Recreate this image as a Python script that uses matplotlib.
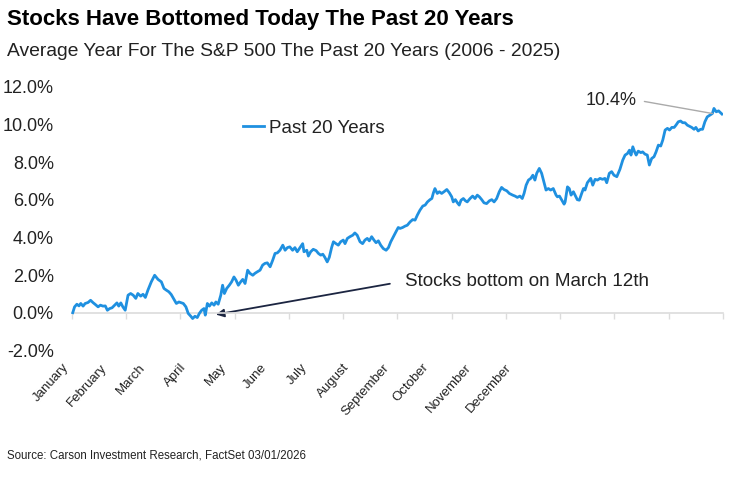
import numpy as np
import matplotlib.pyplot as plt

plt.rcParams['font.family'] = ['Liberation Sans', 'DejaVu Sans']

#
#   Data: trading day of the year and average return (%)
#
day = [0.3, 1.0, 1.9, 2.7, 3.4, 4.3, 5.1, 6.2, 7.2, 8.1, 9.0, 10.1, 11.0, 12.0, 12.9,
       13.7, 14.6, 15.5, 16.5, 17.4, 18.1, 18.9, 19.7, 20.6, 21.7, 22.7, 23.7, 24.7,
       25.5, 26.6, 27.5, 28.4, 29.4, 30.7, 32.0, 33.3, 34.6, 35.6, 36.5, 37.5, 38.4,
       39.5, 40.4, 41.4, 43.1, 44.1, 45.0, 46.0, 46.7, 47.6, 48.5, 49.3, 50.2, 51.1,
       51.6, 52.4, 53.2, 54.1, 55.0, 55.7, 56.6, 57.6, 58.3, 59.0, 59.9, 60.9, 61.8,
       62.7, 63.5, 64.4, 65.3, 66.1, 67.0, 68.0, 68.9, 70.0, 70.8, 71.7, 72.8, 73.8,
       74.7, 75.6, 76.7, 77.7, 78.6, 79.5, 80.5, 81.6, 82.5, 83.4, 84.3, 85.4, 86.3,
       87.2, 88.3, 89.3, 89.8, 90.9, 91.5, 92.4, 93.4, 94.5, 95.4, 96.3, 97.1, 97.9,
       98.8, 99.6, 100.5, 101.2, 102.2, 103.1, 104.0, 105.0, 105.7, 106.6, 107.6,
       108.7, 109.5, 110.4, 111.5, 112.5, 113.4, 114.3, 115.1, 116.0, 116.9, 117.7,
       118.6, 119.5, 120.5, 121.6, 122.5, 123.4, 124.4, 125.4, 126.3, 127.0, 128.0,
       128.9, 129.8, 130.9, 131.9, 132.8, 133.7, 134.7, 135.8, 136.7, 137.6, 138.6,
       139.3, 139.9, 140.5, 141.4, 142.2, 143.1, 144.0, 145.1, 146.1, 147.0, 147.6,
       148.4, 149.2, 149.9, 150.6, 151.5, 152.3, 153.0, 154.1, 155.1, 156.0, 156.9,
       157.7, 158.6, 159.5, 160.5, 161.6, 162.5, 163.4, 164.4, 165.4, 166.3, 167.2,
       168.3, 169.3, 170.6, 171.5, 172.4, 173.4, 174.3, 175.0, 175.8, 176.7, 177.6,
       178.4, 179.2, 179.9, 180.9, 181.8, 182.5, 183.5, 184.4, 185.3, 186.3, 187.4,
       187.9, 188.7, 189.6, 190.5, 190.9, 191.8, 192.5, 193.2, 194.1, 194.9, 195.6,
       196.4, 197.3, 198.0, 198.6, 199.5, 200.3, 200.8, 201.6, 202.5, 203.4, 204.4,
       205.4, 206.3, 207.0, 208.0, 208.9, 209.8, 210.9, 212.1, 213.2, 214.1, 215.0,
       215.8, 216.4, 217.1, 217.8, 218.4, 219.2, 220.2, 220.9, 221.8, 222.7, 223.5,
       224.4, 225.3, 226.1, 227.0, 227.9, 228.7, 229.6, 230.5, 231.3, 232.2, 233.1,
       233.8, 234.7, 235.6, 236.4, 237.3, 238.2, 238.9, 239.9, 240.8, 241.5, 242.4,
       243.3, 244.1, 245.0, 245.9, 246.9, 247.9, 248.5, 249.4, 250.3, 251.1, 251.6]

ret = [0.00, 0.31, 0.45, 0.36, 0.49, 0.35, 0.49, 0.54, 0.66, 0.54, 0.44, 0.31, 0.40, 0.35, 0.36,
       0.13, 0.22, 0.26, 0.40, 0.52, 0.35, 0.52, 0.31, 0.13, 0.93, 1.02, 0.93, 0.76,
       1.02, 0.88, 0.98, 0.81, 1.20, 1.64, 1.99, 1.77, 1.64, 1.29, 1.20, 1.11, 0.97,
       0.70, 0.49, 0.57, 0.49, 0.31, -0.04, -0.19, -0.31, -0.19, -0.26, -0.04, 0.13, 0.22,
       -0.13, 0.49, 0.35, 0.52, 0.40, 0.57, 0.45, 0.93, 1.46, 1.02, 1.29, 1.46, 1.64,
       1.90, 1.73, 1.46, 1.64, 1.77, 1.55, 2.26, 2.09, 1.99, 2.09, 2.17, 2.26, 2.53,
       2.62, 2.65, 2.44, 2.79, 3.15, 3.18, 3.32, 3.59, 3.32, 3.46, 3.50, 3.32, 3.46,
       3.24, 3.46, 3.67, 3.24, 3.32, 3.01, 3.24, 3.37, 3.30, 3.15, 3.06, 3.11, 2.94,
       2.70, 2.94, 3.46, 3.77, 3.67, 3.59, 3.77, 3.86, 3.67, 3.95, 4.04,
       4.12, 4.24, 4.12, 3.77, 3.67, 3.86, 3.95, 3.82, 4.04, 3.86, 3.72,
       3.82, 3.59, 3.41, 3.32, 3.46, 3.77, 4.04, 4.30, 4.53, 4.48, 4.53,
       4.60, 4.65, 4.83, 4.95, 4.92, 5.19, 5.45, 5.67, 5.72, 5.89, 6.01,
       6.07, 6.37, 6.60, 6.34, 6.43, 6.34, 6.43, 6.55, 6.37, 6.16, 5.89,
       6.01, 5.84, 5.72, 5.98, 6.07, 5.95, 5.89, 6.07, 6.20, 6.07, 6.25,
       6.16, 6.01, 5.84, 5.80, 5.95, 6.01, 5.89, 6.07, 6.43, 6.66, 6.55,
       6.48, 6.34, 6.25, 6.20, 6.13, 6.20, 6.07, 6.34, 6.78, 7.05, 7.14,
       7.31, 7.05, 7.41, 7.67, 7.41, 7.05, 6.52, 6.60, 6.52, 6.60, 6.25,
       6.16, 6.20, 5.98, 5.77, 5.89, 6.69, 6.60, 6.25, 6.43, 6.20, 6.01,
       5.98, 6.34, 6.60, 6.52, 6.91, 7.05, 7.14, 6.78, 7.09, 7.05, 7.14,
       7.09, 7.14, 6.91, 7.41, 7.50, 7.31, 7.23, 7.62, 8.11, 8.38, 8.46,
       8.64, 8.38, 8.82, 8.55, 8.38, 8.59, 8.51, 8.55, 8.43, 8.38, 7.85,
       8.20, 8.29, 8.55, 8.91, 8.86, 9.18, 9.71, 9.80, 9.71, 9.85, 9.85,
       9.97, 10.15, 10.19, 10.10, 10.10, 9.97, 9.92, 9.85, 9.75, 9.85, 9.66,
       9.75, 9.75, 10.15, 10.41, 10.50, 10.59, 10.86, 10.68, 10.73, 10.63, 10.56]

months = ['January', 'February', 'March', 'April', 'May', 'June', 'July',
          'August', 'September', 'October', 'November', 'December']
yvals = [-2, 0, 2, 4, 6, 8, 10, 12]

blue = '#1f90e0'
dark = '#222222'

#   tick marks every 21 trading days, month labels sit where the original put them
month_ticks = list(range(0, 253, 21))
label_pos = [-1.9, 12.8, 27.5, 43.4, 58.8, 74.7, 90.2, 106.5, 122.0, 137.4, 153.7, 169.2]

fig = plt.figure(figsize=(7.4, 4.8), dpi=100)
ax = fig.add_axes([0.0868, 0.2702, 0.8902, 0.5486])

ax.plot(day, ret, color=blue, lw=2, label='Past 20 Years', zorder=3)

ax.set_xlim(-3, 252)
ax.set_ylim(-2, 12)

ax.set_yticks(yvals)
ax.set_yticklabels([f'{v:.1f}%' for v in yvals])
ax.tick_params(axis='y', length=0, pad=7.5, labelsize=13, labelcolor=dark)

for s in ['left', 'right', 'top']:
    ax.spines[s].set_visible(False)
ax.spines['bottom'].set_position(('data', 0))
ax.spines['bottom'].set_bounds(0, 252)
ax.spines['bottom'].set_color('#dcdcdc')
ax.spines['bottom'].set_linewidth(1.2)

ax.set_xticks(month_ticks)
ax.set_xticklabels([])
ax.set_xticks(label_pos, months, minor=True)
ax.tick_params(axis='x', which='major', length=4, color='#dcdcdc', width=1)
ax.tick_params(axis='x', which='minor', length=0, pad=38, labelsize=9.5, labelcolor=dark)
for lab in ax.get_xticklabels(minor=True):
    lab.set_rotation(48)
    lab.set_ha('right')
    lab.set_va('center')
    lab.set_rotation_mode('anchor')

leg = ax.legend(loc='center left', bbox_to_anchor=(0.2713, 0.8443), frameon=False,
                fontsize=13.5, handlelength=1.1, handletextpad=0.3, borderpad=0,
                borderaxespad=0)
for t in leg.get_texts():
    t.set_color(dark)

#   annotations
ax.annotate('Stocks bottom on March 12th', xy=(55.7, -0.1), xytext=(128.9, 1.68),
            fontsize=13.6, color=dark, ha='left', va='center', zorder=2,
            arrowprops=dict(arrowstyle='-|>', color='#1c2541', lw=1.3, shrinkA=9,
                            shrinkB=0, relpos=(0, 0.5), mutation_scale=12))

i_peak = day.index(247.9)
ax.annotate('10.4%', xy=(day[i_peak], ret[i_peak]), xytext=(218.7, 11.3),
            fontsize=13, color=dark, ha='right', va='center',
            arrowprops=dict(arrowstyle='-', color='#aaaaaa', lw=1, shrinkA=3.4,
                            shrinkB=0, relpos=(1, 0.5)))

#   titles and source
fig.text(7 / 740, 1 - 19 / 480, 'Stocks Have Bottomed Today The Past 20 Years',
         fontsize=16, weight='bold', color='black', va='center')
fig.text(7 / 740, 1 - 51 / 480,
         'Average Year For The S&P 500 The Past 20 Years (2006 - 2025)',
         fontsize=13.9, color=dark, va='center')
fig.text(7 / 740, 1 - 455 / 480, 'Source: Carson Investment Research, FactSet 03/01/2026',
         fontsize=8.3, color=dark, va='center')

fig.savefig('out.png', dpi=100)
